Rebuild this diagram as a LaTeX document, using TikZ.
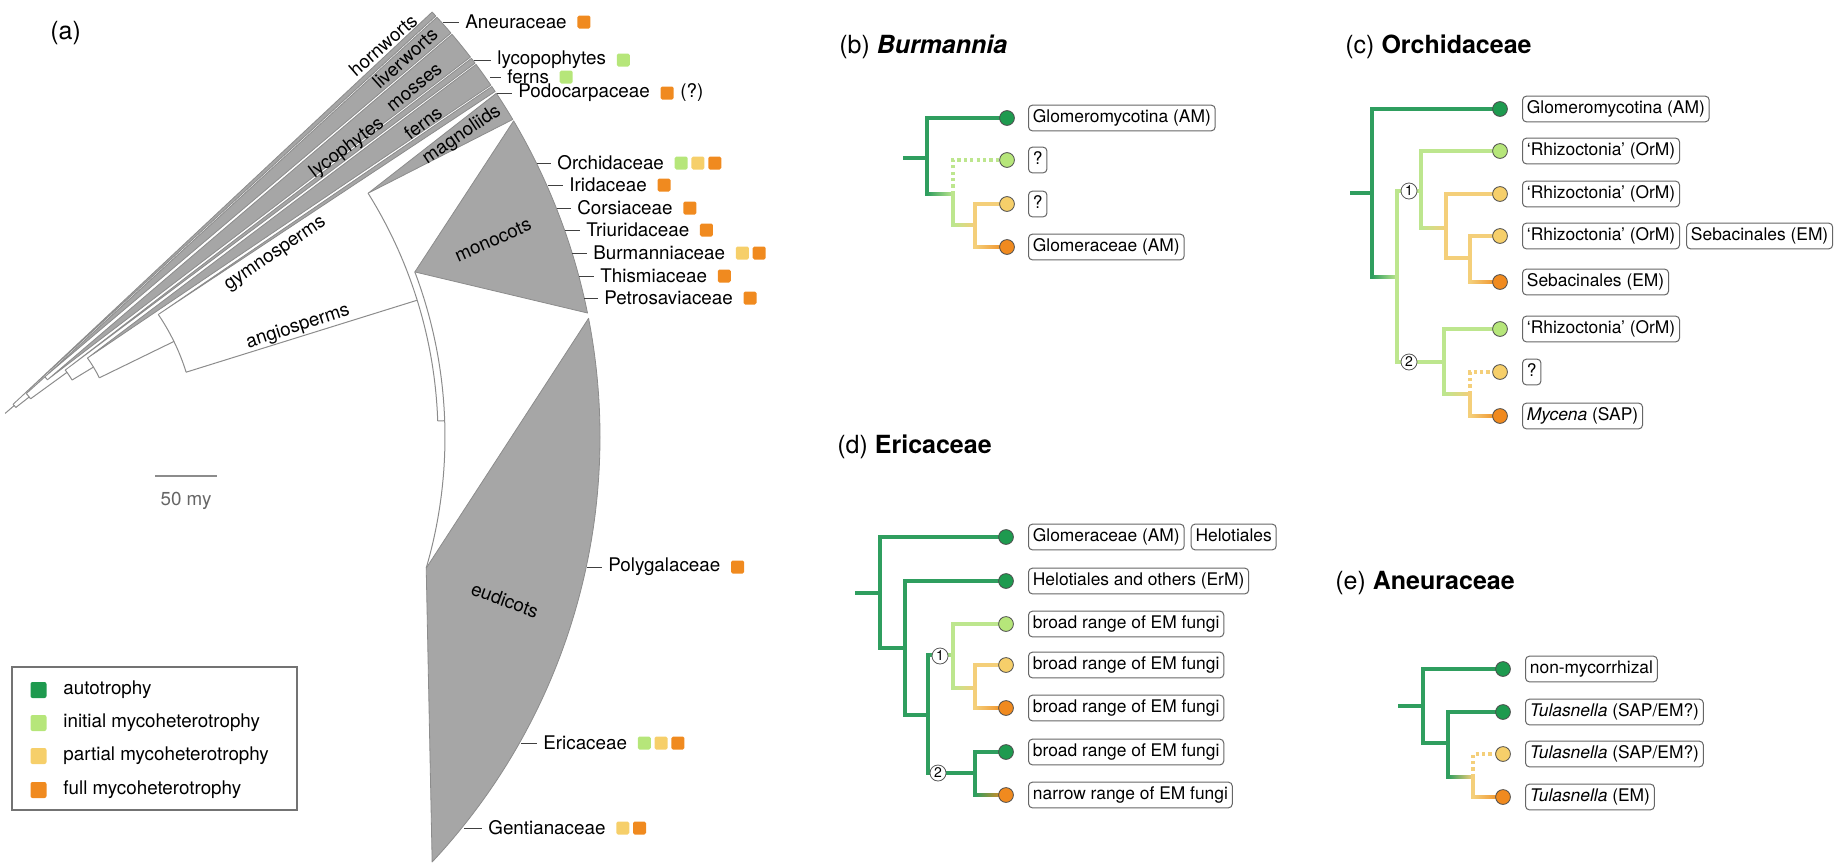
\documentclass[tikz,border=0pt]{standalone}
\usepackage{fontspec}
\setmainfont{TeX Gyre Heros}
\usetikzlibrary{positioning,calc}
\definecolor{cAuto}{HTML}{1E9A4F}
\definecolor{cAutoL}{HTML}{2F9E5F}
\definecolor{cInit}{HTML}{B6E67A}
\definecolor{cInitL}{HTML}{BDE68E}
\definecolor{cPart}{HTML}{F6CF6A}
\definecolor{cPartL}{HTML}{F4CF7A}
\definecolor{cFull}{HTML}{F08A1F}
\definecolor{wedgeFill}{HTML}{A6A6A6}
\definecolor{wedgeLine}{HTML}{8C8C8C}
\tikzset{
 wedge/.style={fill=wedgeFill, draw=wedgeLine, line width=0.4pt, line join=round},
 stem/.style={draw=wedgeLine, line width=0.5pt},
 tick/.style={draw=black!75, line width=0.5pt},
 tiplab/.style={anchor=west, inner xsep=3pt, inner ysep=1pt, font=\fontsize{9.4}{11}\selectfont},
 wlab/.style={inner sep=0pt, font=\fontsize{9.4}{11}\selectfont},
 sq/.style={minimum size=6.5pt, inner sep=0pt, rounded corners=0.8pt},
 lsq/.style={minimum size=8pt, inner sep=0pt, rounded corners=1pt},
 br/.style={line width=1.7pt},
 dots/.style={dash pattern=on 1.6pt off 1.6pt},
 tipc/.style={circle, minimum size=7.4pt, inner sep=0pt, draw=black!70, line width=0.4pt},
 fbox/.style={draw=black!60, rounded corners=2pt, line width=0.5pt, anchor=west, inner xsep=2.2pt, inner ysep=2.3pt, text height=6.4pt, text depth=1.9pt, font=\fontsize{8.7}{10}\selectfont},
 cnum/.style={circle, draw=black!65, fill=white, line width=0.4pt, inner sep=0pt, minimum size=8pt, font=\fontsize{7}{7}\selectfont},
 ptitle/.style={anchor=west, inner sep=0pt, font=\fontsize{12.5}{14}\selectfont},
}
\newcommand\brsolid[3]{\draw[br,#3,line cap=rect] (#1) |- (#2);}
\newcommand\brdot[3]{\draw[br,#3,dots] (#1) |- (#2);}
\newcommand\brgrad[4]{%
 \coordinate (tmpk) at (#1 |- #2);
 \draw[br,#3,line cap=rect] (#1) -- (tmpk);
 \shade[left color=#3, right color=#4] ($(tmpk)+(0,0.85pt)$) rectangle ($(#2)+(0,-0.85pt)$);}
\begin{document}
\begin{tikzpicture}[x=0.5pt, y=-0.5pt]
\useasboundingbox (0,0) rectangle (1847,867);
% ================= panel (a) =================
\node[ptitle] (ta) at (50,33) {(a)};
\begin{scope}[shift={(-22,437)}, x=0.5pt, y=0.5pt]
 \draw[wedge] (43:48) -- (43.1:622) arc[start angle=43.1,end angle=42.6,radius=622] -- cycle;
 \draw[wedge] (42:90) -- (42.45:622) arc[start angle=42.45,end angle=40.5,radius=622] -- cycle;
 \draw[wedge] (39.5:90) -- (40.35:622) arc[start angle=40.35,end angle=37.65,radius=622] -- cycle;
 \draw[wedge] (37.5:110) -- (37.5:622) arc[start angle=37.5,end angle=36.95,radius=622] -- cycle;
 \draw[wedge] (35.8:135) -- (36.8:622) arc[start angle=36.8,end angle=34.45,radius=622] -- cycle;
 \draw[wedge] (34.2:218) -- (34.3:622) arc[start angle=34.3,end angle=33.75,radius=622] -- cycle;
 \draw[wedge] (32:460) -- (33.55:622) arc[start angle=33.55,end angle=30.7,radius=622] -- cycle;
 \draw[wedge] (20.7:467) -- (30.55:622) arc[start angle=30.55,end angle=11.5,radius=622] -- cycle;
 \draw[wedge] (-16.3:467) -- (11:622) arc[start angle=11,end angle=-43.1,radius=622] -- cycle;
 \draw[stem] (41:36) -- (41:48);
 \draw[stem] (43:48) arc[start angle=43,end angle=38,radius=48];
 \draw[stem] (38:48) -- (38:65);
 \draw[stem] (42:65) arc[start angle=42,end angle=36,radius=65];
 \draw[stem] (42:65) -- (42:90);
 \draw[stem] (42:90) arc[start angle=42,end angle=39.5,radius=90];
 \draw[stem] (36:65) -- (36:110);
 \draw[stem] (37.5:110) arc[start angle=37.5,end angle=31.2,radius=110];
 \draw[stem] (31.2:110) -- (31.2:135);
 \draw[stem] (35.8:135) arc[start angle=35.8,end angle=26,radius=135];
 \draw[stem] (26:135) -- (26:218);
 \draw[stem] (34.2:218) arc[start angle=34.2,end angle=17.3,radius=218];
 \draw[stem] (17.3:218) -- (17.3:460);
 \draw[stem] (32:460) arc[start angle=32,end angle=2,radius=460];
 \draw[stem] (2:460) -- (2:467);
 \draw[stem] (20.7:467) arc[start angle=20.7,end angle=-16.3,radius=467];
\end{scope}
% wedge labels
\node[wlab, rotate=41] (lhorn) at (383,45) {hornworts};
\node[wlab, rotate=42] (lliver) at (405,58) {liverworts};
\node[wlab, rotate=39] (lmoss) at (415,88) {mosses};
\node[wlab, rotate=37] (llyco) at (347,148) {lycophytes};
\node[wlab, rotate=37] (lfern) at (423,123) {ferns};
\node[wlab, rotate=34] (lmagn) at (462,135) {magnoliids};
\node[wlab, rotate=34] (lgymn) at (276,255) {gymnosperms};
\node[wlab, rotate=18] (langi) at (298,327) {angiosperms};
\node[wlab, rotate=24] (lmono) at (493,240) {monocots};
\node[wlab, rotate=-20] (leudi) at (505,600) {eudicots};
% tip labels
\coordinate (aAne) at (443,22);   \node[tiplab] (tAne) at (459,22) {Aneuraceae};
\coordinate (aLyc) at (474,60);   \node[tiplab] (tLyc) at (491,60) {lycopophytes};
\coordinate (aFer) at (490,77);   \node[tiplab] (tFer) at (501,77) {ferns};
\coordinate (aPod) at (497,93);   \node[tiplab] (tPod) at (512,93) {Podocarpaceae};
\coordinate (aOrc) at (537,163);  \node[tiplab] (tOrc) at (551,163) {Orchidaceae};
\coordinate (aIri) at (548,185);  \node[tiplab] (tIri) at (563,185) {Iridaceae};
\coordinate (aCor) at (557,208);  \node[tiplab] (tCor) at (571,208) {Corsiaceae};
\coordinate (aTri) at (565,230);  \node[tiplab] (tTri) at (580,230) {Triuridaceae};
\coordinate (aBur) at (572,253);  \node[tiplab] (tBur) at (587,253) {Burmanniaceae};
\coordinate (aThi) at (579,276);  \node[tiplab] (tThi) at (594,276) {Thismiaceae};
\coordinate (aPet) at (584,298);  \node[tiplab] (tPet) at (598,298) {Petrosaviaceae};
\coordinate (aPol) at (587,567);  \node[tiplab] (tPol) at (602,567) {Polygalaceae};
\coordinate (aEri) at (521,743);  \node[tiplab] (tEri) at (537,743) {Ericaceae};
\coordinate (aGen) at (464,828);  \node[tiplab] (tGen) at (482,828) {Gentianaceae};
\foreach \t in {Ane,Lyc,Fer,Pod,Orc,Iri,Cor,Tri,Bur,Thi,Pet,Pol,Eri,Gen}{\draw[tick] (a\t) -- (t\t.west);}
\node[sq, fill=cFull, right=2pt of tAne] (sAne) {};
\node[sq, fill=cInit, right=2pt of tLyc] (sLyc) {};
\node[sq, fill=cInit, right=2pt of tFer] (sFer) {};
\node[sq, fill=cFull, right=2pt of tPod] (sPod) {};
\node[tiplab, inner xsep=0pt, right=3pt of sPod] (qPod) {(?)};
\node[sq, fill=cInit, right=2pt of tOrc] (sOrc1) {};
\node[sq, fill=cPart, right=1.5pt of sOrc1] (sOrc2) {};
\node[sq, fill=cFull, right=1.5pt of sOrc2] (sOrc3) {};
\node[sq, fill=cFull, right=2pt of tIri] (sIri) {};
\node[sq, fill=cFull, right=2pt of tCor] (sCor) {};
\node[sq, fill=cFull, right=2pt of tTri] (sTri) {};
\node[sq, fill=cPart, right=2pt of tBur] (sBur1) {};
\node[sq, fill=cFull, right=1.5pt of sBur1] (sBur2) {};
\node[sq, fill=cFull, right=2pt of tThi] (sThi) {};
\node[sq, fill=cFull, right=2pt of tPet] (sPet) {};
\node[sq, fill=cFull, right=2pt of tPol] (sPol) {};
\node[sq, fill=cInit, right=2pt of tEri] (sEri1) {};
\node[sq, fill=cPart, right=1.5pt of sEri1] (sEri2) {};
\node[sq, fill=cFull, right=1.5pt of sEri2] (sEri3) {};
\node[sq, fill=cPart, right=2pt of tGen] (sGen1) {};
\node[sq, fill=cFull, right=1.5pt of sGen1] (sGen2) {};
% scale bar
\coordinate (sb1) at (155,476); \coordinate (sb2) at (217,476);
\draw[draw=black!45, line width=0.9pt] (sb1) -- (sb2);
\node[wlab, text=black!60] (sbt) at (186,501) {50 my};
% legend
\draw[draw=black!55, line width=0.6pt] (12,667) rectangle (297,810);
\node[lsq, fill=cAuto] (lg1) at (38.5,690) {};
\node[lsq, fill=cInit] (lg2) at (38.5,723) {};
\node[lsq, fill=cPart] (lg3) at (38.5,756) {};
\node[lsq, fill=cFull] (lg4) at (38.5,790) {};
\node[tiplab, inner xsep=0pt] (lt1) at (63,690) {autotrophy};
\node[tiplab, inner xsep=0pt] (lt2) at (63,723) {initial mycoheterotrophy};
\node[tiplab, inner xsep=0pt] (lt3) at (63,756) {partial mycoheterotrophy};
\node[tiplab, inner xsep=0pt] (lt4) at (63,790) {full mycoheterotrophy};
% ================= panel (b) =================
\node[ptitle] (tb) at (839,47) {(b) \textbf{\textit{Burmannia}}};
\coordinate (br0) at (903,158); \coordinate (b0) at (927,158);
\coordinate (bt1) at (1007,118); \coordinate (b1) at (953,194);
\coordinate (bt2) at (1007,160); \coordinate (b2) at (975,225);
\coordinate (bt3) at (1007,204); \coordinate (bt4) at (1007,247);
\draw[br,cAutoL] (br0) -- (b0);
\brsolid{b0}{bt1}{cAutoL}
\brgrad{b0}{b1}{cAutoL}{cInitL}
\brdot{b1}{bt2}{cInitL}
\brgrad{b1}{b2}{cInitL}{cPartL}
\brsolid{b2}{bt3}{cPartL}
\brgrad{b2}{bt4}{cPartL}{cFull}
\node[tipc, fill=cAuto] (Bt1) at (bt1) {};
\node[tipc, fill=cInit] (Bt2) at (bt2) {};
\node[tipc, fill=cPart] (Bt3) at (bt3) {};
\node[tipc, fill=cFull] (Bt4) at (bt4) {};
\node[fbox] (bl1) at (1028,118) {Glomeromycotina (AM)};
\node[fbox] (bl2) at (1028,160) {?};
\node[fbox] (bl3) at (1028,204) {?};
\node[fbox] (bl4) at (1028,247) {Glomeraceae (AM)};
% ================= panel (c) =================
\node[ptitle] (tc) at (1345,47) {(c) \textbf{Orchidaceae}};
\coordinate (cr0) at (1350,193); \coordinate (c0) at (1372,193);
\coordinate (ct1) at (1500,109); \coordinate (cA) at (1397,277);
\coordinate (cB) at (1421,191); \coordinate (cC) at (1444,362);
\coordinate (ct2) at (1500,151); \coordinate (cD) at (1446,228);
\coordinate (ct3) at (1500,194); \coordinate (cE) at (1470,258);
\coordinate (ct4) at (1500,236); \coordinate (ct5) at (1500,282);
\coordinate (ct6) at (1500,329); \coordinate (cF) at (1470,394);
\coordinate (ct7) at (1500,372); \coordinate (ct8) at (1500,416);
\draw[br,cAutoL] (cr0) -- (c0);
\brsolid{c0}{ct1}{cAutoL}
\brgrad{c0}{cA}{cAutoL}{cInitL}
\brsolid{cA}{cB}{cInitL}
\brsolid{cA}{cC}{cInitL}
\brsolid{cB}{ct2}{cInitL}
\brgrad{cB}{cD}{cInitL}{cPartL}
\brsolid{cD}{ct3}{cPartL}
\brsolid{cD}{cE}{cPartL}
\brsolid{cE}{ct4}{cPartL}
\brgrad{cE}{ct5}{cPartL}{cFull}
\brsolid{cC}{ct6}{cInitL}
\brgrad{cC}{cF}{cInitL}{cPartL}
\brdot{cF}{ct7}{cPartL}
\brgrad{cF}{ct8}{cPartL}{cFull}
\node[cnum] (cn1) at (1409,191) {1};
\node[cnum] (cn2) at (1409,362) {2};
\node[tipc, fill=cAuto] (Ct1) at (ct1) {};
\node[tipc, fill=cInit] (Ct2) at (ct2) {};
\node[tipc, fill=cPart] (Ct3) at (ct3) {};
\node[tipc, fill=cPart] (Ct4) at (ct4) {};
\node[tipc, fill=cFull] (Ct5) at (ct5) {};
\node[tipc, fill=cInit] (Ct6) at (ct6) {};
\node[tipc, fill=cPart] (Ct7) at (ct7) {};
\node[tipc, fill=cFull] (Ct8) at (ct8) {};
\node[fbox] (cl1) at (1522,109) {Glomeromycotina (AM)};
\node[fbox] (cl2) at (1522,151) {‘Rhizoctonia’ (OrM)};
\node[fbox] (cl3) at (1522,194) {‘Rhizoctonia’ (OrM)};
\node[fbox] (cl4) at (1522,236) {‘Rhizoctonia’ (OrM)};
\node[fbox, right=3pt of cl4] (cl4b) {Sebacinales (EM)};
\node[fbox] (cl5) at (1522,282) {Sebacinales (EM)};
\node[fbox] (cl6) at (1522,329) {‘Rhizoctonia’ (OrM)};
\node[fbox] (cl7) at (1522,372) {?};
\node[fbox] (cl8) at (1522,416) {\textit{Mycena} (SAP)};
% ================= panel (d) =================
\node[ptitle] (td) at (837,447) {(d) \textbf{Ericaceae}};
\coordinate (dr0) at (855,593); \coordinate (d0) at (880,593);
\coordinate (dt1) at (1006,537); \coordinate (d1) at (905,648);
\coordinate (dt2) at (1006,581); \coordinate (d2) at (928,715);
\coordinate (d3) at (953,655); \coordinate (d4) at (975,773);
\coordinate (dt3) at (1006,624); \coordinate (d5) at (975,688);
\coordinate (dt4) at (1006,665); \coordinate (dt5) at (1006,708);
\coordinate (dt6) at (1006,752); \coordinate (dt7) at (1006,795);
\draw[br,cAutoL] (dr0) -- (d0);
\brsolid{d0}{dt1}{cAutoL}
\brsolid{d0}{d1}{cAutoL}
\brsolid{d1}{dt2}{cAutoL}
\brsolid{d1}{d2}{cAutoL}
\brgrad{d2}{d3}{cAutoL}{cInitL}
\brsolid{d2}{d4}{cAutoL}
\brsolid{d3}{dt3}{cInitL}
\brgrad{d3}{d5}{cInitL}{cPartL}
\brsolid{d5}{dt4}{cPartL}
\brgrad{d5}{dt5}{cPartL}{cFull}
\brsolid{d4}{dt6}{cAutoL}
\brgrad{d4}{dt7}{cAutoL}{cFull}
\node[cnum] (dn1) at (940,656) {1};
\node[cnum] (dn2) at (938,773) {2};
\node[tipc, fill=cAuto] (Dt1) at (dt1) {};
\node[tipc, fill=cAuto] (Dt2) at (dt2) {};
\node[tipc, fill=cInit] (Dt3) at (dt3) {};
\node[tipc, fill=cPart] (Dt4) at (dt4) {};
\node[tipc, fill=cFull] (Dt5) at (dt5) {};
\node[tipc, fill=cAuto] (Dt6) at (dt6) {};
\node[tipc, fill=cFull] (Dt7) at (dt7) {};
\node[fbox] (dl1) at (1028,537) {Glomeraceae (AM)};
\node[fbox, right=3pt of dl1] (dl1b) {Helotiales};
\node[fbox] (dl2) at (1028,581) {Helotiales and others (ErM)};
\node[fbox] (dl3) at (1028,624) {broad range of EM fungi};
\node[fbox] (dl4) at (1028,665) {broad range of EM fungi};
\node[fbox] (dl5) at (1028,708) {broad range of EM fungi};
\node[fbox] (dl6) at (1028,752) {broad range of EM fungi};
\node[fbox] (dl7) at (1028,795) {narrow range of EM fungi};
% ================= panel (e) =================
\node[ptitle] (te) at (1335,583) {(e) \textbf{Aneuraceae}};
\coordinate (er0) at (1398,706); \coordinate (e0) at (1423,706);
\coordinate (et1) at (1503,669); \coordinate (e1) at (1448,743);
\coordinate (et2) at (1503,712); \coordinate (e2) at (1473,777);
\coordinate (et3) at (1503,754); \coordinate (et4) at (1503,797);
\draw[br,cAutoL] (er0) -- (e0);
\brsolid{e0}{et1}{cAutoL}
\brsolid{e0}{e1}{cAutoL}
\brsolid{e1}{et2}{cAutoL}
\brgrad{e1}{e2}{cAutoL}{cPartL}
\brdot{e2}{et3}{cPartL}
\brgrad{e2}{et4}{cPartL}{cFull}
\node[tipc, fill=cAuto] (Et1) at (et1) {};
\node[tipc, fill=cAuto] (Et2) at (et2) {};
\node[tipc, fill=cPart] (Et3) at (et3) {};
\node[tipc, fill=cFull] (Et4) at (et4) {};
\node[fbox] (el1) at (1525,669) {non-mycorrhizal};
\node[fbox] (el2) at (1525,712) {\textit{Tulasnella} (SAP/EM?)};
\node[fbox] (el3) at (1525,754) {\textit{Tulasnella} (SAP/EM?)};
\node[fbox] (el4) at (1525,797) {\textit{Tulasnella} (EM)};
\end{tikzpicture}
\end{document}
